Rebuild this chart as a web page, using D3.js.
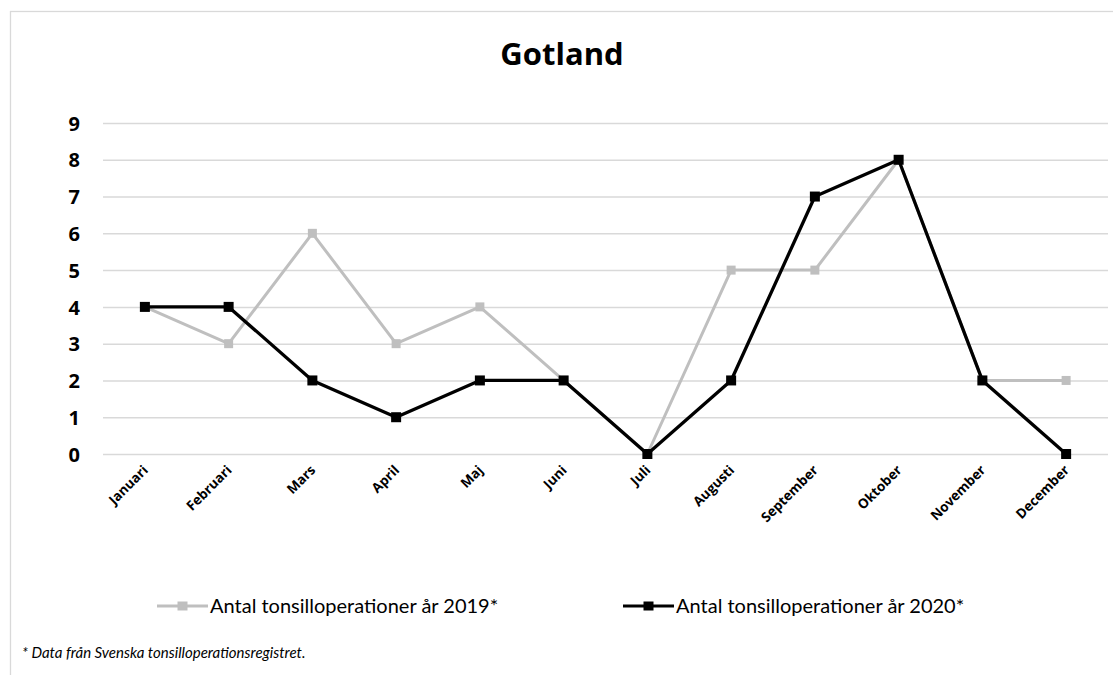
<!DOCTYPE html>
<html><head><meta charset="utf-8">
<script src="https://cdn.jsdelivr.net/npm/d3@7"></script>
<style>body{margin:0;background:#fff;} svg{display:block;}</style>
</head><body>
<svg id="c" width="1113" height="675"></svg>
<script>
const months = ["Januari","Februari","Mars","April","Maj","Juni","Juli","Augusti","September","Oktober","November","December"];
const values2019 = [4,3,6,3,4,2,0,5,5,8,2,2];
const values2020 = [4,4,2,1,2,2,0,2,7,8,2,0];
const yTicks = [0,1,2,3,4,5,6,7,8,9];
const seriesNames = ["Antal tonsilloperationer år 2019*","Antal tonsilloperationer år 2020*"];
const title = "Gotland";
const footnote = "* Data från Svenska tonsilloperationsregistret.";

const OS = "'Open Sans', sans-serif";
const LA = "Lato, 'Open Sans', sans-serif";
const svg = d3.select("#c");
svg.append("rect").attr("x",10.5).attr("y",11.5).attr("width",1120).attr("height",700)
  .attr("fill","#fff").attr("stroke","#d9d9d9").attr("stroke-width",1.3);

const x = d3.scaleBand().domain(months).range([103,1108]);
const y = d3.scaleLinear().domain([0,9]).range([454,123]);

svg.append("text").attr("x",562).attr("y",65).attr("text-anchor","middle")
  .style("font-family",OS).style("font-weight","bold").style("font-size","31px").text(title);

// grid
const ga = svg.append("g").attr("transform","translate(103,0)")
  .call(d3.axisLeft(y).tickValues(yTicks).tickSize(-1005).tickFormat(d3.format("d")));
ga.select(".domain").remove();
ga.selectAll(".tick line").attr("stroke","#d9d9d9").attr("stroke-width",1.5);
ga.selectAll(".tick text").attr("x",-23).attr("dy","0.36em").style("font-family",OS).style("font-weight","bold")
  .style("font-size","20px").attr("fill","#000");

const xa = svg.append("g").attr("transform","translate(0,454)")
  .call(d3.axisBottom(x).tickSize(0));
xa.select(".domain").remove();
xa.selectAll(".tick text").style("font-family",OS).style("font-weight","bold").style("font-size","13.5px")
  .attr("fill","#000").attr("text-anchor","end").attr("x",0).attr("y",0).attr("dy",0)
  .attr("transform","translate(4,17) rotate(-45)");

const cx = d => x(d)+x.bandwidth()/2;
const series = [{vals:values2019,color:"#bfbfbf",w:3,m:9},{vals:values2020,color:"#000",w:3.3,m:10}];
const line = d3.line().x((d,i)=>cx(months[i])).y(d=>y(d));
series.forEach(s=>{
  svg.append("path").datum(s.vals).attr("d",line).attr("fill","none").attr("stroke",s.color)
    .attr("stroke-width",s.w).attr("stroke-linejoin","round");
  svg.selectAll(null).data(s.vals).enter().append("rect")
    .attr("x",(d,i)=>cx(months[i])-s.m/2).attr("y",d=>y(d)-s.m/2).attr("width",s.m).attr("height",s.m)
    .attr("fill",s.color);
});

// legend
const legX = [157,623];
seriesNames.forEach((n,i)=>{
  const g = svg.append("g").attr("transform",`translate(${legX[i]},606)`);
  g.append("line").attr("x1",0).attr("x2",51).attr("stroke",series[i].color).attr("stroke-width",3);
  g.append("rect").attr("x",20.5).attr("y",-4.5).attr("width",10).attr("height",9).attr("fill",series[i].color);
  g.append("text").attr("x",53).attr("y",7).style("font-family",LA).style("font-size","20px")
    .attr("fill","#000").text(n);
});

svg.append("text").attr("x",22).attr("y",658).style("font-family",LA).style("font-style","italic")
  .style("font-size","15px").attr("fill","#000").text(footnote);
</script>
</body></html>
